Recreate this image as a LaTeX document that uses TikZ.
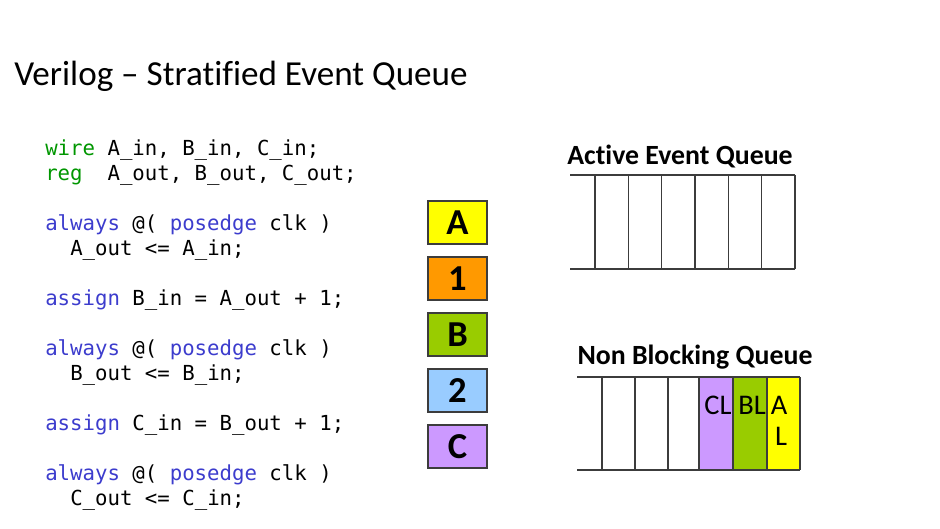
\documentclass[tikz,border=0pt]{standalone}
\usepackage{fontspec}
\setmainfont[Ligatures={NoCommon}]{Carlito}
\setmonofont{DejaVu Sans Mono}
\definecolor{kwgreen}{RGB}{0,150,0}
\definecolor{kwblue}{RGB}{60,60,205}
\definecolor{qyellow}{RGB}{255,255,0}
\definecolor{qorange}{RGB}{255,153,0}
\definecolor{qgreen}{RGB}{153,204,0}
\definecolor{qblue}{RGB}{153,204,255}
\definecolor{qpurple}{RGB}{204,153,255}
\definecolor{lncol}{RGB}{60,60,60}
\newcommand{\kg}[1]{\textcolor{kwgreen}{#1}}
\newcommand{\kb}[1]{\textcolor{kwblue}{#1}}
\begin{document}
\begin{tikzpicture}[x=0.766pt,y=-0.766pt,
  codeline/.style={anchor=base west,inner sep=0pt,font=\fontsize{15.85}{18}\ttfamily},
  evbox/.style={draw=lncol,line width=0.9pt,minimum width=59*0.766pt,minimum height=43*0.766pt,inner sep=0pt,font=\fontsize{28}{32}\selectfont\bfseries},
  qline/.style={draw=lncol,line width=1pt},
  qtitle/.style={anchor=base,inner sep=0pt,font=\fontsize{21.3}{25}\selectfont\bfseries},
  celltext/.style={anchor=base,inner sep=0pt,font=\fontsize{21.8}{26}\selectfont}]
\useasboundingbox (0,0) rectangle (940,529);
% title
\node[anchor=base west,inner sep=0pt,font=\fontsize{26.9}{32}\selectfont] (title) at (14,86) {Verilog – Stratified Event Queue};
% code
\node[codeline] (c1) at (45,156) {\kg{wire} A\_in, B\_in, C\_in;};
\node[codeline] (c2) at (45,181) {\kg{reg}\ \ A\_out, B\_out, C\_out;};
\node[codeline] (c3) at (45,231) {\kb{always} @( \kb{posedge} clk )};
\node[codeline] (c4) at (70,256) {A\_out <= A\_in;};
\node[codeline] (c5) at (45,306) {\kb{assign} B\_in = A\_out + 1;};
\node[codeline] (c6) at (45,356) {\kb{always} @( \kb{posedge} clk )};
\node[codeline] (c7) at (70,381) {B\_out <= B\_in;};
\node[codeline] (c8) at (45,431) {\kb{assign} C\_in = B\_out + 1;};
\node[codeline] (c9) at (45,481) {\kb{always} @( \kb{posedge} clk )};
\node[codeline] (c10) at (70,506) {C\_out <= C\_in;};
% event boxes
\node[evbox,fill=qyellow] (bA) at (457.5,222.5) {A};
\node[evbox,fill=qorange] (b1) at (457.5,278.5) {1};
\node[evbox,fill=qgreen] (bB) at (457.5,334.5) {B};
\node[evbox,fill=qblue] (b2) at (457.5,390.5) {2};
\node[evbox,fill=qpurple] (bC) at (457.5,446.5) {C};
% active event queue
\node[qtitle] (aqt) at (680,165) {Active Event Queue};
\draw[qline] (570,175) -- (795,175);
\draw[qline] (570,269) -- (795,269);
\foreach \xx in {595,628.3,661.7,695,728.3,761.7,795}
  \draw[qline] (\xx,175) -- (\xx,269);
% non blocking queue
\node[qtitle] (nqt) at (695,365) {Non Blocking Queue};
\fill[qpurple] (699,377) rectangle (733,470);
\fill[qgreen] (733,377) rectangle (767,470);
\fill[qyellow] (767,377) rectangle (800,470);
\draw[qline] (577,377) -- (800,377);
\draw[qline] (577,470) -- (800,470);
\foreach \xx in {602,635,668,699,733,767,800}
  \draw[qline] (\xx,377) -- (\xx,470);
\node[celltext] (cl) at (718,415) {CL};
\node[celltext] (bl) at (752,415) {BL};
\node[celltext] (al1) at (779,415) {A};
\node[celltext] (al2) at (781,446) {L};
\end{tikzpicture}
\end{document}
